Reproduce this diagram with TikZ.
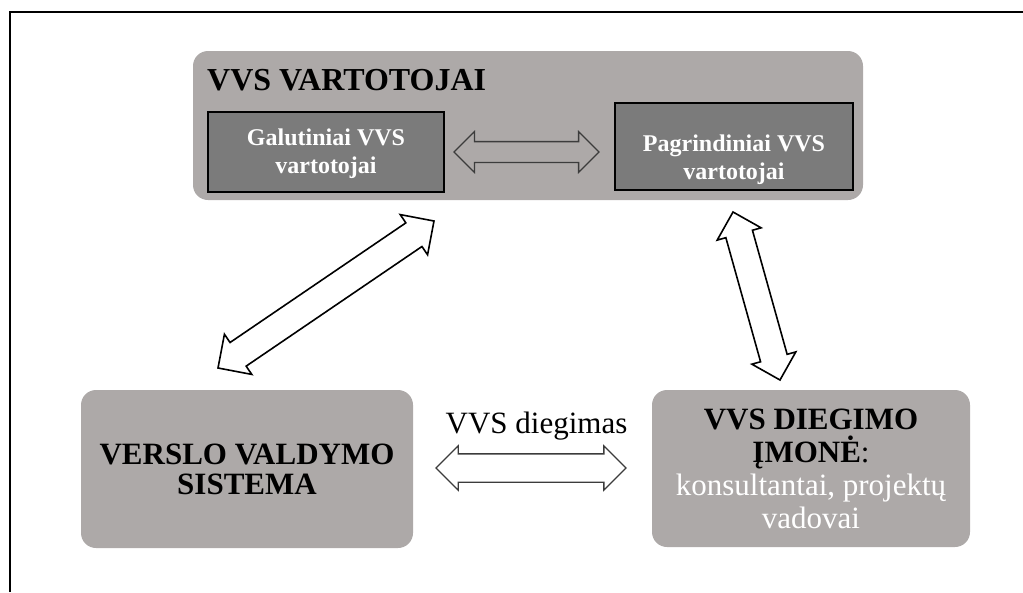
\documentclass[tikz,border=0pt]{standalone}
\usepackage{fontspec}
\setmainfont{Liberation Serif}
\usetikzlibrary{shapes.arrows,calc}

\definecolor{boxgray}{HTML}{ADA9A8}
\definecolor{innergray}{HTML}{7B7B7B}
\definecolor{edgegray}{HTML}{3C3C3C}

% hollow two-headed arrow from one coordinate to another
\newcommand{\fatarrow}[4][]{%
  \path let \p1=(#3), \p2=(#4), \n1={atan2(\y2-\y1,\x2-\x1)}, \n2={veclen(\x2-\x1,\y2-\y1)}
    in node[dblarrow, #1, minimum height=\n2, rotate=\n1] (#2) at ($(#3)!0.5!(#4)$) {};}

\begin{document}
\begin{tikzpicture}[x=1pt, y=-1pt,
    bigbox/.style={fill=boxgray, rounded corners=15pt, inner sep=0pt},
    innerbox/.style={fill=innergray, draw=black, line width=2pt, inner sep=0pt},
    dblarrow/.style={double arrow, draw=black, line width=1.6pt, fill=white,
        inner xsep=0pt, minimum width=1pt},
    bigtext/.style={font=\fontsize{31}{30}\selectfont, align=center, inner sep=0pt},
    smalltext/.style={font=\bfseries\fontsize{24}{28}\selectfont, text=white, align=center, inner sep=0pt}]
    \useasboundingbox (0,0) rectangle (1023,592);
    \draw[line width=2pt] (10,592) -- (10,12) -- (1023,12);

    % users
    \node[bigbox, minimum width=670, minimum height=149] (vart) at (528,125.5) {};
    \node[anchor=base west, inner sep=0pt, font=\bfseries\fontsize{32}{32}\selectfont] (vartt) at (207,90) {VVS VARTOTOJAI};
    \node[innerbox, minimum width=236, minimum height=80] (galut) at (326,152) {};
    \node[smalltext] (galutt) at (326,154) {Galutiniai VVS\\vartotojai};
    \node[innerbox, minimum width=238, minimum height=87] (pagr) at (734,146.5) {};
    \node[smalltext] (pagrt) at (734,160) {Pagrindiniai VVS\\vartotojai};

    % system and company
    \node[bigbox, minimum width=332, minimum height=158, bigtext] (vvs) at (247,469) {\textbf{VERSLO VALDYMO}\\\textbf{SISTEMA}};
    \node[bigbox, minimum width=318, minimum height=157, bigtext,
        font=\fontsize{31}{33}\selectfont] (imone) at (811,468.5)
        {\textbf{VVS DIEGIMO}\\\textbf{ĮMONĖ}:\\\textcolor{white}{konsultantai, projektų}\\\textcolor{white}{vadovai}};
    \node[anchor=base, inner sep=0pt, font=\fontsize{31}{31}\selectfont] (diegimas) at (536.5,433) {VVS diegimas};

    % arrow ends
    \coordinate (t1) at (454,152);
    \coordinate (t2) at (599,152);
    \coordinate (d1) at (218,368);
    \coordinate (d2) at (434,221);
    \coordinate (r1) at (733,212);
    \coordinate (r2) at (780,380);
    \coordinate (b1) at (436,468);
    \coordinate (b2) at (626,468);

    \fatarrow[draw=edgegray, fill=none, line width=1.3pt, inner ysep=9.75pt, double arrow head extend=10pt]{a1}{t1}{t2}
    \fatarrow[inner ysep=13.5pt, double arrow head extend=10pt]{a2}{d1}{d2}
    \fatarrow[inner ysep=13pt, double arrow head extend=9pt]{a3}{r1}{r2}
    \fatarrow[draw=edgegray, line width=1.3pt, inner ysep=13.5pt, double arrow head extend=8pt]{a4}{b1}{b2}
\end{tikzpicture}
\end{document}
